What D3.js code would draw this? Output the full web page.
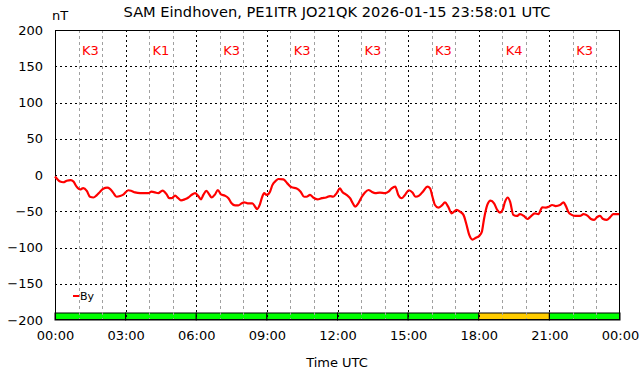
<!DOCTYPE html>
<html><head><meta charset="utf-8">
<script src="https://cdn.jsdelivr.net/npm/d3@7"></script>
<style>html,body{margin:0;padding:0;background:#fff;}svg{display:block;font-family:"DejaVu Sans",sans-serif;}</style>
</head><body><svg id="c" width="642" height="376"></svg>
<script>
const title = "SAM Eindhoven, PE1ITR JO21QK 2026-01-15 23:58:01 UTC";
const yTicks = [-200,-150,-100,-50,0,50,100,150,200];
const xTickLabels = ["00:00","03:00","06:00","09:00","12:00","15:00","18:00","21:00","00:00"];
const kIndex = [3,1,3,3,3,3,4,3];
// time in minutes since 00:00 UTC
const byMinutes = [0,13,21,30,40,47,55,64,72,81,89,98,106,115,123,133,140,149,157,166,174,187,195,204,217,238,246,255,263,274,285,291,297,306,314,321,331,340,348,357,365,372,378,386,393,399,408,415,423,433,442,450,459,467,476,482,491,503,510,515,522,527,533,539,548,554,563,569,582,592,603,616,626,635,641,650,658,669,680,691,701,709,718,726,732,743,752,759,765,773,782,790,799,807,816,828,841,850,858,867,875,884,892,902,911,919,928,939,949,956,962,968,977,986,994,1002,1011,1024,1032,1041,1049,1056,1064,1073,1081,1088,1093,1102,1110,1119,1127,1134,1141,1147,1154,1160,1168,1177,1185,1195,1204,1212,1223,1232,1242,1251,1259,1267,1276,1287,1296,1302,1308,1317,1327,1338,1347,1357,1366,1374,1382,1389,1397,1406,1415,1423,1432,1438];
const byValues = [-2,-9,-10,-8,-7,-9,-16,-20,-18,-22,-30,-31,-28,-23,-19,-17.5,-19,-25,-30,-29,-27,-21,-22,-24,-25,-25,-23,-24,-25,-21.5,-27,-32,-32,-28.5,-32,-35,-33.5,-31,-27.5,-25,-29,-33.5,-27.5,-22,-26.7,-31,-26.7,-20.7,-26.7,-28.5,-32,-39,-42,-42,-39,-37.7,-39,-39,-43.7,-47,-41,-32,-25,-27.5,-23,-14,-8,-5.5,-6,-11.5,-17,-18.5,-23,-30,-30,-27.5,-31,-33.5,-32,-31,-29,-30,-25,-18.5,-23,-27.5,-32,-39,-43.7,-39,-30,-24,-20.7,-23,-25,-24.4,-25,-23,-18.5,-16,-27.5,-32,-27.5,-21,-24,-30,-28.5,-22,-16,-18.5,-30,-41,-45,-42,-37.7,-43.7,-53,-48,-50.6,-55,-69,-83,-89,-86.5,-84,-78,-62,-41,-35.4,-39,-48,-52,-48,-36.8,-31,-37,-55,-56.5,-54,-56.5,-60.7,-57.5,-53,-54,-44.6,-45,-43.7,-41.4,-42.8,-41.4,-37.7,-42.8,-50.6,-55,-56.5,-56.5,-54,-56,-60.7,-62,-58,-56.5,-60.7,-62,-58,-54,-54,-54];

const L=55,R=620,T=30,B=320;
const svg=d3.select("#c");
const x=d3.scaleLinear().domain([0,1440]).range([L,R]);
const y=d3.scaleLinear().domain([-200,200]).range([B,T]);

// K bars
const kColor=k=>k>=5?"#ff0000":(k===4?"#ffcc00":"#00ff00");
svg.append("g").selectAll("rect").data(kIndex).join("rect")
  .attr("x",(d,i)=>x(i*180)).attr("width",(d,i)=>x((i+1)*180)-x(i*180))
  .attr("y",y(-200)-7).attr("height",7)
  .attr("fill",d=>kColor(d)).attr("stroke","#000").attr("stroke-width",1);

// minor vertical grid (hourly)
const hours=d3.range(1,24).filter(h=>h%3!==0);
svg.append("g").selectAll("line").data(hours).join("line")
  .attr("x1",d=>Math.round(x(d*60))+0.5).attr("x2",d=>Math.round(x(d*60))+0.5)
  .attr("y1",T).attr("y2",B).attr("stroke","#a0a0a0").attr("stroke-width",1).attr("stroke-dasharray","3,3");
// major vertical grid
svg.append("g").selectAll("line").data(d3.range(1,8)).join("line")
  .attr("x1",d=>Math.round(x(d*180))+0.5).attr("x2",d=>Math.round(x(d*180))+0.5)
  .attr("y1",T).attr("y2",B).attr("stroke","#000").attr("stroke-width",1).attr("stroke-dasharray","2,3");
// major horizontal grid
svg.append("g").selectAll("line").data(yTicks.slice(1,-1)).join("line")
  .attr("y1",d=>Math.round(y(d))+0.5).attr("y2",d=>Math.round(y(d))+0.5)
  .attr("x1",L).attr("x2",R).attr("stroke","#000").attr("stroke-width",1).attr("stroke-dasharray","2,3");

// frame
svg.append("rect").attr("x",L+0.5).attr("y",T+0.5).attr("width",R-L-1).attr("height",B-T-1)
  .attr("fill","none").attr("stroke","#000").attr("stroke-width",1);

// y axis labels
const yAxis=d3.axisLeft(y).tickValues(yTicks).tickSize(0).tickPadding(12);
const gy=svg.append("g").attr("transform",`translate(${L},0)`).call(yAxis);
gy.select(".domain").remove();
gy.selectAll("text").attr("font-size",13).attr("font-family","DejaVu Sans").attr("fill","#000");

// x axis labels
const xAxis=d3.axisBottom(x).tickValues(d3.range(0,1441,180)).tickFormat((d,i)=>xTickLabels[i]).tickSize(0).tickPadding(11);
const gx=svg.append("g").attr("transform",`translate(0,${B})`).call(xAxis);
gx.select(".domain").remove();
gx.selectAll("text").attr("font-size",13).attr("font-family","DejaVu Sans").attr("fill","#000");

// K labels
svg.append("g").selectAll("text").data(kIndex).join("text")
  .attr("x",(d,i)=>x(i*180+90)).attr("y",55).attr("text-anchor","middle")
  .attr("font-size",13).attr("fill","#ff0000").text(d=>"K"+d);

// line
const data=byMinutes.map((m,i)=>[m,byValues[i]]);
svg.append("path").datum(data)
  .attr("d",d3.line().x(d=>x(d[0])).y(d=>y(d[1])).curve(d3.curveMonotoneX))
  .attr("fill","none").attr("stroke","#ff0000").attr("stroke-width",2.2).attr("stroke-linejoin","round");

// legend
svg.append("line").attr("x1",73).attr("x2",79).attr("y1",296).attr("y2",296).attr("stroke","#ff0000").attr("stroke-width",2);
svg.append("text").attr("x",80).attr("y",300).attr("font-size",11).attr("fill","#000").text("By");

// titles
svg.append("text").attr("x",337).attr("y",17).attr("text-anchor","middle").attr("font-size",14.6).attr("fill","#000").text(title);
svg.append("text").attr("x",60).attr("y",20).attr("text-anchor","middle").attr("font-size",13).attr("fill","#000").text("nT");
svg.append("text").attr("x",337).attr("y",367).attr("text-anchor","middle").attr("font-size",13).attr("fill","#000").text("Time UTC");
</script></body></html>
